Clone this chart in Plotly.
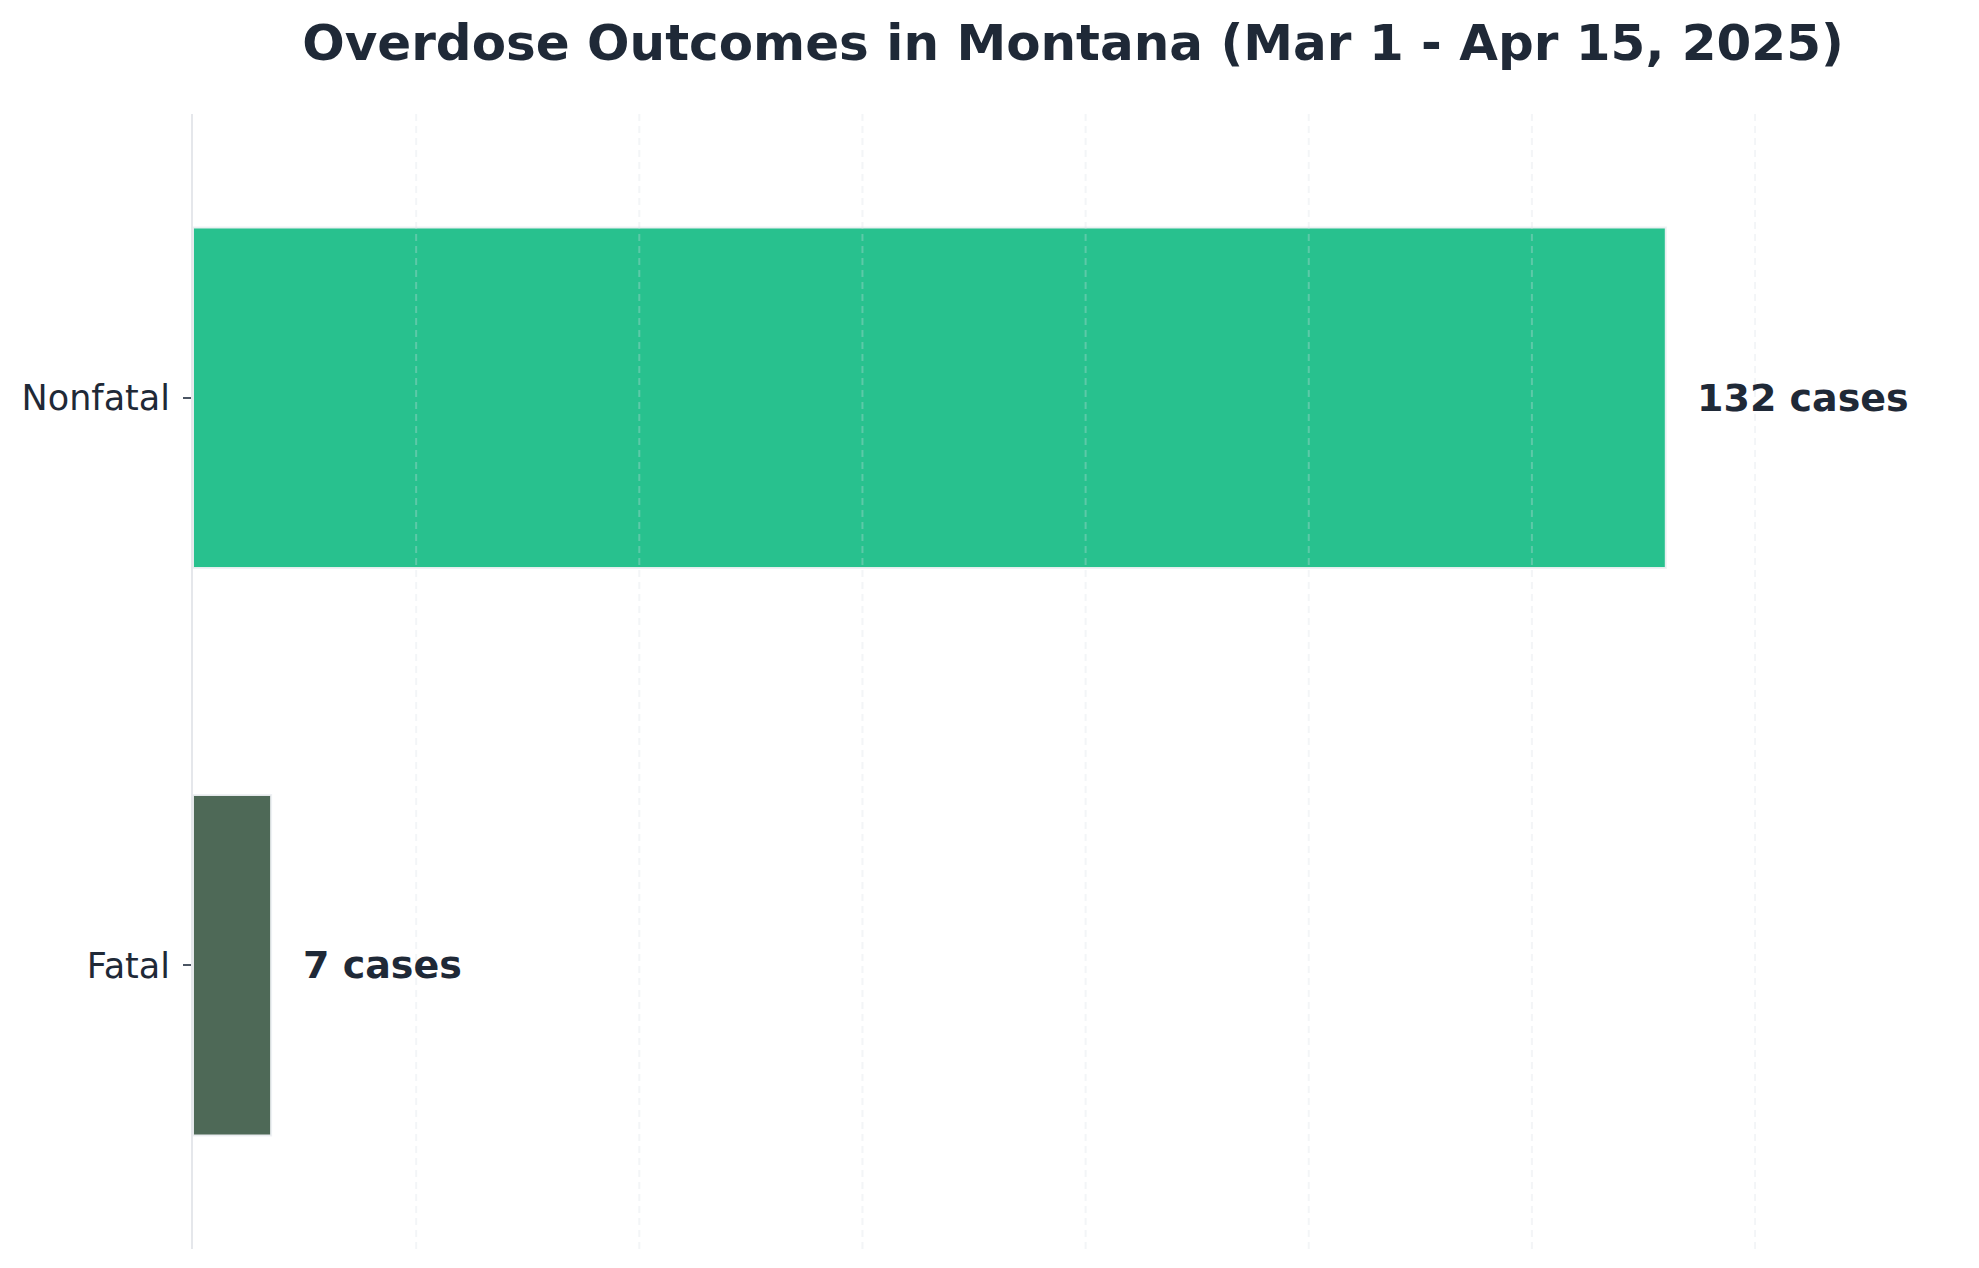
import plotly.graph_objects as go

# Overdose outcomes, Montana, Mar 1 - Apr 15 2025
outcomes = ["Fatal", "Nonfatal"]
case_counts = [7, 132]
bar_colors = ["#4e6957", "#28c18e"]

TEXT = "#1f2937"
FONT = "DejaVu Sans"
GRID = "rgba(215,222,228,0.3)"

max_val = max(case_counts)
offset = max_val * 0.02
x_max = max_val * 1.195
grid_step = 20

fig = go.Figure()
fig.add_trace(go.Bar(
    x=case_counts, y=outcomes, orientation="h",
    width=0.6,
    marker=dict(color=bar_colors, line=dict(color="rgba(238,240,243,0.95)", width=2)),
    hoverinfo="skip", showlegend=False,
))

# value labels to the right of each bar
for name, val in zip(outcomes, case_counts):
    fig.add_annotation(
        x=val + offset, y=name, xref="x", yref="y",
        text=f"<b>{val} cases</b>", showarrow=False,
        xanchor="left", yanchor="middle",
        font=dict(family=FONT, size=38, color=TEXT),
    )

# dashed grid drawn over the bars (plotly's own grid sits underneath)
g = grid_step
while g < x_max:
    fig.add_shape(type="line", xref="x", yref="paper", x0=g, x1=g, y0=0, y1=1,
                  line=dict(color=GRID, width=2, dash="7px,5px"), layer="above")
    g += grid_step

# page body has an 8px margin, so pull the layout up/left by that much
fig.update_layout(
    width=1979, height=1268,
    margin=dict(l=185, r=34, t=106, b=27),
    paper_bgcolor="white", plot_bgcolor="white",
    font=dict(family=FONT, color=TEXT),
    title=dict(
        text="<b>Overdose Outcomes in Montana (Mar 1 - Apr 15, 2025)</b>",
        x=0.5, xref="paper", xanchor="center",
        y=1 - 34 / 1268, yref="container", yanchor="middle",
        font=dict(family=FONT, size=50, color=TEXT),
    ),
    xaxis=dict(
        range=[0, x_max],
        showticklabels=False, ticks="", showline=False, zeroline=False,
        showgrid=False,
    ),
    yaxis=dict(
        type="category", categoryorder="array", categoryarray=outcomes,
        range=[-0.5, 1.5],
        showline=True, linecolor="#e5e7eb", linewidth=2,
        ticks="outside", ticklen=8, tickwidth=1.5, tickcolor="#4b5563",
        ticklabelstandoff=6,
        tickfont=dict(family=FONT, size=35, color=TEXT),
        showgrid=False, zeroline=False,
    ),
)

fig.write_html("out.html")
